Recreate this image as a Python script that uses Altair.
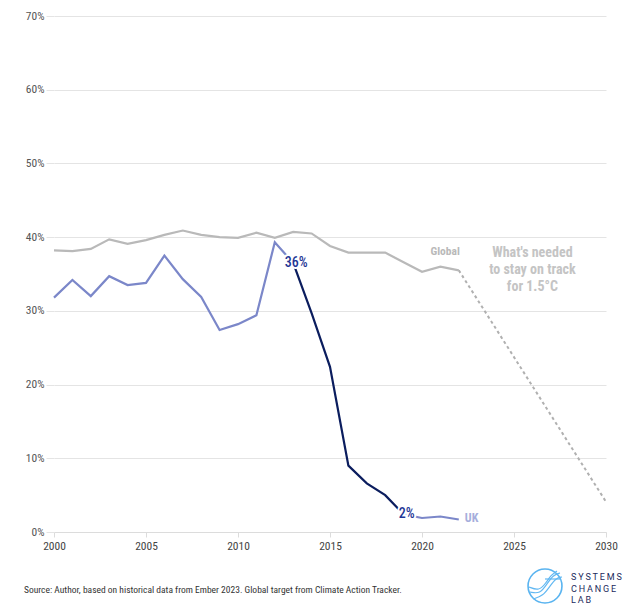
"""
Coal share of electricity generation: UK vs global, with the 1.5C pathway.
"""

import pandas as pd
import altair as alt

# --- data (percent of electricity generation from coal) ---
years = list(range(2000, 2023))
global_share = [38.2, 38.1, 38.4, 39.7, 39.1, 39.6, 40.3, 40.9, 40.3, 40.0, 39.9, 40.6,
                39.9, 40.7, 40.5, 38.8, 37.9, 37.9, 37.9, 36.6, 35.3, 36.0, 35.5]
uk_share = [31.8, 34.2, 32.0, 34.7, 33.5, 33.8, 37.5, 34.3, 31.9, 27.4, 28.2, 29.4,
            39.3, 36.5, 29.7, 22.4, 9.0, 6.6, 5.0, 2.4, 1.9, 2.1, 1.7]
target_years = [2022, 2030]
target_share = [35.5, 4.1]
fall_start, fall_end = 2013, 2019
fall_labels = ["36%", "2%"]
x_ticks = [2000, 2005, 2010, 2015, 2020, 2025, 2030]
y_ticks = [0, 10, 20, 30, 40, 50, 60, 70]
target_note = ["What's needed", "to stay on track", "for 1.5°C"]
source_note = ("Source: Author, based on historical data from Ember 2023. "
               "Global target from Climate Action Tracker.")
logo_lines = ["S\u2009Y\u2009S\u2009T\u2009E\u2009M\u2009S",
              "C\u2009H\u2009A\u2009N\u2009G\u2009E",
              "L\u2009A\u2009B"]

FONT = "Liberation Sans Narrow, Roboto Condensed, Roboto"
GREY = "#b9b9b9"
UK_LIGHT = "#7b87c9"
UK_DARK = "#0b1d5e"
LABEL_BLUE = "#1f3796"

df = pd.DataFrame({"year": years, "global": global_share, "uk": uk_share})
early = df[df["year"] <= fall_start]
fall = df[(df["year"] >= fall_start) & (df["year"] <= fall_end)]
late = df[df["year"] >= fall_end]
target = pd.DataFrame({"year": target_years, "global": target_share})

x = alt.X("year:Q", scale=alt.Scale(domain=[2000, 2030], nice=False),
          axis=alt.Axis(values=x_ticks, format="d", grid=False, title=None, labelFlush=False,
                        domainColor="#dcdcdc", tickColor="#dcdcdc", tickSize=5,
                        labelPadding=3, labelColor="#444", labelFontSize=11.5))
y_axis = alt.Axis(values=y_ticks, labelExpr="datum.value + '%'", domain=False, title=None,
                  labelFlush=False, tickSize=8, tickColor="#e4e4e4", gridColor="#e4e4e4",
                  labelPadding=2, labelColor="#555", labelFontSize=11.5)
y_scale = alt.Scale(domain=[0, 70], nice=False)

global_line = alt.Chart(df).mark_line(color=GREY, strokeWidth=2.2).encode(
    x=x, y=alt.Y("global:Q", scale=y_scale, axis=y_axis))
target_line = alt.Chart(target).mark_line(color="#b0b0b0", strokeWidth=2, strokeDash=[3, 3]).encode(
    x="year:Q", y="global:Q")
uk_early = alt.Chart(early).mark_line(color=UK_LIGHT, strokeWidth=2.2).encode(x="year:Q", y="uk:Q")
uk_late = alt.Chart(late).mark_line(color=UK_LIGHT, strokeWidth=2.2).encode(x="year:Q", y="uk:Q")
uk_fall = alt.Chart(fall).mark_line(color=UK_DARK, strokeWidth=2.2).encode(x="year:Q", y="uk:Q")

# labels at both ends of the steep fall, with a white halo underneath
ends = pd.DataFrame({"year": [fall_start, fall_end],
                     "uk": [uk_share[years.index(fall_start)], uk_share[years.index(fall_end)]],
                     "label": fall_labels,
                     "dy": [-6, -1]})
halo = alt.Chart(ends).mark_text(font=FONT, fontSize=14, fontWeight=500, dx=3,
                                 stroke="white", strokeWidth=4, color="white").encode(
    x="year:Q", y="uk:Q", text="label:N", yOffset="dy:Q")
end_text = alt.Chart(ends).mark_text(font=FONT, fontSize=14, fontWeight=500, dx=3,
                                     color=LABEL_BLUE).encode(
    x="year:Q", y="uk:Q", text="label:N", yOffset="dy:Q")

last = df[df["year"] == years[-1]]
global_label = alt.Chart(last).mark_text(font=FONT, fontSize=11.5, fontWeight="bold", color=GREY,
                                         align="right", dx=1, dy=-18).encode(
    x="year:Q", y="global:Q", text=alt.value("Global"))
uk_label = alt.Chart(last).mark_text(font=FONT, fontSize=12, fontWeight="bold", color="#a6aedc",
                                     align="left", dx=6, dy=-1).encode(
    x="year:Q", y="uk:Q", text=alt.value("UK"))

note = alt.Chart(pd.DataFrame({"year": [2026.0], "v": [38.8]})).mark_text(
    font=FONT, fontSize=14, fontWeight="bold", color="#c4c4c4", baseline="top",
    lineHeight=17).encode(x="year:Q", y="v:Q", text=alt.value(target_note))

# footer: source line and logo
footer = alt.Chart(pd.DataFrame({"t": [source_note]})).mark_text(
    font=FONT, fontSize=9.5, color="#333", align="left").encode(
    x=alt.value(-30), y=alt.value(574), text="t:N")
logo_ring = alt.Chart(pd.DataFrame({"a": [0]})).mark_point(
    shape="circle", size=1150, filled=False, color="#5ab4f0", strokeWidth=1.6, opacity=1).encode(
    x=alt.value(491), y=alt.value(570))
# swirl strokes inside the logo ring (decoration, in pixel space)
swirl = pd.DataFrame({
    "g": [1] * 5 + [2] * 5 + [3] * 5 + [4] * 2,
    "o": list(range(5)) * 3 + [0, 1],
    "px": [476, 486, 493, 499, 506, 479, 489, 496, 502, 508, 475, 485, 492, 497, 503, 491, 507],
    "py": [576, 578, 568, 559, 557, 583, 580, 570, 562, 561, 571, 575, 567, 559, 555, 563, 563],
})
logo_swirl = alt.Chart(swirl).mark_line(color="#62b8f2", strokeWidth=1.2, interpolate="basis").encode(
    x=alt.X("px:Q", scale=None), y=alt.Y("py:Q", scale=None), detail="g:N", order="o:Q")
logo_text = alt.Chart(pd.DataFrame({"t": logo_lines, "yy": [561, 572.5, 584]})).mark_text(
    font="Roboto", fontSize=9, color="#1c2a5c", align="left").encode(
    x=alt.value(517), y=alt.Y("yy:Q", scale=None), text="t:N")

chart = alt.layer(
    global_line, target_line, uk_early, uk_late, uk_fall, halo, end_text,
    global_label, uk_label, note, footer, logo_ring, logo_swirl, logo_text
).properties(
    width=552, height=516,
    autosize=alt.AutoSizeParams(type="none"),
    padding={"left": 46, "top": 8, "right": 26, "bottom": 75},
).configure_view(strokeWidth=0).configure_axis(labelFont=FONT)

chart.save("out.html", embed_options={"renderer": "svg", "actions": False})
